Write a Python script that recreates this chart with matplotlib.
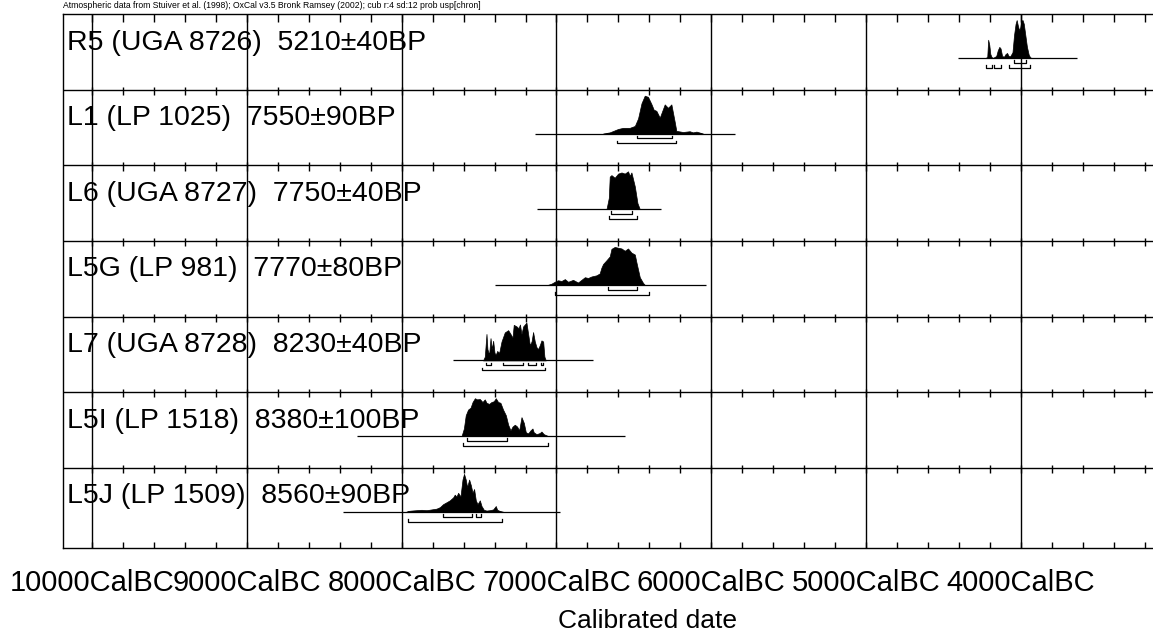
import matplotlib
matplotlib.use('Agg')
import matplotlib.pyplot as plt
import numpy as np

plt.rcParams['font.family'] = ['Liberation Sans', 'DejaVu Sans']

header = ("Atmospheric data from Stuiver et al. (1998); OxCal v3.5 Bronk Ramsey (2002); "
          "cub r:4 sd:12 prob usp[chron]")

labels = ["R5 (UGA 8726)  5210\u00b140BP",
          "L1 (LP 1025)  7550\u00b190BP",
          "L6 (UGA 8727)  7750\u00b140BP",
          "L5G (LP 981)  7770\u00b180BP",
          "L7 (UGA 8728)  8230\u00b140BP",
          "L5I (LP 1518)  8380\u00b1100BP",
          "L5J (LP 1509)  8560\u00b190BP"]

tick_years = [10000, 9000, 8000, 7000, 6000, 5000, 4000]

# calibrated probability, years BC vs relative height
r5_bc = [4230, 4218, 4212, 4205, 4198, 4190, 4180, 4160, 4150, 4140, 4132, 4122, 4110,
         4100, 4090, 4080, 4070, 4055, 4045, 4035, 4028, 4020, 4012, 4005, 3998, 3990,
         3982, 3972, 3962, 3950, 3940, 3930]
r5_p = [0, 0.02, 0.48, 0.35, 0.1, 0.02, 0.0, 0.05, 0.2, 0.29, 0.25, 0.05, 0.03,
        0.1, 0.13, 0.05, 0.04, 0.15, 0.6, 0.9, 1.0, 0.85, 0.73, 0.8, 0.98, 1.0,
        0.9, 0.6, 0.3, 0.08, 0.01, 0]

l1_bc = [6699, 6656, 6602, 6570, 6527, 6494, 6473, 6451, 6430, 6409, 6387, 6372, 6355,
         6333, 6301, 6280, 6258, 6236, 6226, 6183, 6140, 6118, 6096, 6054]
l1_p = [0, 0.03, 0.12, 0.15, 0.15, 0.2, 0.4, 0.8, 1.0, 0.97, 0.78, 0.63, 0.6,
        0.42, 0.77, 0.68, 0.77, 0.3, 0.07, 0.04, 0.06, 0.03, 0.05, 0]

l6_bc = [6677, 6662, 6656, 6645, 6624, 6602, 6580, 6559, 6538, 6527, 6516, 6494, 6477, 6462]
l6_p = [0, 0.3, 0.86, 0.9, 0.83, 0.94, 0.97, 0.94, 1.0, 0.88, 0.97, 0.6, 0.16, 0]

l5g_bc = [7054, 7032, 7011, 6990, 6968, 6946, 6925, 6893, 6861, 6839, 6817, 6796, 6774,
          6742, 6721, 6710, 6699, 6677, 6656, 6645, 6624, 6602, 6580, 6559, 6538, 6516,
          6494, 6484, 6473, 6462, 6441, 6430]
l5g_p = [0, 0.03, 0.08, 0.12, 0.1, 0.15, 0.08, 0.13, 0.06, 0.13, 0.2, 0.18, 0.22,
         0.25, 0.3, 0.45, 0.55, 0.65, 0.75, 0.95, 1.0, 0.98, 0.96, 0.9, 0.96, 0.85,
         0.8, 0.6, 0.4, 0.2, 0.05, 0]

l7_bc = [7474, 7463, 7452, 7446, 7435, 7426, 7418, 7409, 7400, 7392, 7383, 7370, 7355,
         7334, 7312, 7297, 7284, 7276, 7258, 7245, 7236, 7226, 7215, 7194, 7183, 7172,
         7161, 7151, 7140, 7129, 7119, 7108, 7097, 7086, 7078, 7069]
l7_p = [0, 0.1, 0.7, 0.3, 0.15, 0.59, 0.3, 0.52, 0.2, 0.15, 0.25, 0.2, 0.5,
        0.74, 0.8, 0.7, 0.6, 0.94, 0.9, 0.85, 0.95, 0.7, 0.9, 1.0, 0.7, 0.4,
        0.5, 0.75, 0.5, 0.35, 0.3, 0.4, 0.53, 0.5, 0.1, 0]

l5i_bc = [7613, 7598, 7586, 7571, 7555, 7542, 7527, 7513, 7495, 7478, 7463, 7452, 7435,
          7420, 7405, 7392, 7377, 7362, 7345, 7327, 7312, 7297, 7284, 7269, 7254, 7241,
          7226, 7211, 7198, 7183, 7168, 7155, 7147, 7129, 7108, 7097, 7082, 7065, 7054]
l5i_p = [0, 0.2, 0.55, 0.7, 0.75, 0.9, 1.0, 0.97, 0.98, 0.9, 0.97, 0.88, 0.85,
         0.9, 0.92, 1.0, 0.9, 0.88, 0.7, 0.55, 0.3, 0.15, 0.25, 0.3, 0.25, 0.15,
         0.5, 0.35, 0.1, 0.07, 0.15, 0.2, 0.1, 0.05, 0.08, 0.12, 0.05, 0.02, 0]

l5j_bc = [7970, 7958, 7936, 7904, 7872, 7839, 7807, 7775, 7753, 7732, 7710, 7689, 7667,
          7657, 7646, 7635, 7620, 7607, 7597, 7586, 7577, 7564, 7553, 7542, 7532, 7521,
          7510, 7495, 7484, 7469, 7452, 7431, 7409, 7392, 7383, 7366, 7345]
l5j_p = [0, 0.02, 0.03, 0.04, 0.05, 0.04, 0.06, 0.08, 0.12, 0.2, 0.25, 0.3, 0.38,
         0.45, 0.4, 0.5, 0.4, 0.85, 1.0, 0.85, 0.65, 0.85, 0.7, 0.5, 0.6, 0.3,
         0.2, 0.3, 0.15, 0.05, 0.03, 0.04, 0.06, 0.15, 0.05, 0.02, 0]

dens_bc = [r5_bc, l1_bc, l6_bc, l5g_bc, l7_bc, l5i_bc, l5j_bc]
dens_p = [r5_p, l1_p, l6_p, l5g_p, l7_p, l5i_p, l5j_p]

# extent of the calibration curve used for each date (years BC)
calc_range = [(4409, 3641), (7140, 5849), (7123, 6327), (7398, 6032),
              (7668, 6764), (8291, 6559), (8378, 6979)]

# 68.2% and 95.4% ranges (years BC)
sig1 = [[(4045, 3970)],
        [(6480, 6252)],
        [(6650, 6510)],
        [(6667, 6477)],
        [(7455, 7425), (7345, 7215), (7185, 7135), (7100, 7085)],
        [(7581, 7320)],
        [(7735, 7545), (7520, 7490)]]
sig2 = [[(4225, 4185), (4172, 4130), (4075, 3945)],
        [(6609, 6226)],
        [(6660, 6477)],
        [(7007, 6404)],
        [(7480, 7075)],
        [(7605, 7054)],
        [(7958, 7350)]]

nrow = len(labels)
ybot = 7.06
base_off = 0.58
peak_h = 0.5

fig = plt.figure(figsize=(11.53, 6.39), dpi=100)
ax = fig.add_axes([63 / 1153, 1 - 548 / 639, (1165 - 63) / 1153, 534 / 639])
ax.set_xlim(-10187, -3070)
ax.set_ylim(ybot, 0)

lw = 1.0
# row separators and major year lines
for k in range(1, nrow):
    ax.axhline(k, color='black', lw=lw)
for yr in tick_years:
    ax.axvline(-yr, color='black', lw=lw)

# small ticks every 200 years on each separator
minor = -np.arange(10000, 3000, -200)
ax.vlines(minor, 0, 0.11, color='black', lw=lw)
for k in range(1, nrow):
    ax.vlines(minor, k - 0.04, k + 0.07, color='black', lw=lw)
ax.vlines(minor, ybot - 0.08, ybot, color='black', lw=lw)

for i in range(nrow):
    base = i + base_off
    ax.text(-10160, i + 0.47, labels[i], fontsize=20.5, ha='left', va='baseline')
    a, b = calc_range[i]
    ax.hlines(base, -a, -b, color='black', lw=0.9)
    x = -np.array(dens_bc[i])
    p = np.array(dens_p[i])
    ax.fill_between(x, base, base - peak_h * p, color='black', lw=0.5)
    for ranges, dy in ((sig1[i], 0.065), (sig2[i], 0.13)):
        for a, b in ranges:
            yy = base + dy
            ax.plot([-a, -a, -b, -b], [yy - 0.035, yy, yy, yy - 0.035],
                    color='black', lw=0.9)

ax.set_xticks([-y for y in tick_years])
ax.set_xticklabels(['%dCalBC' % y for y in tick_years], fontsize=21)
ax.tick_params(axis='x', length=0, pad=15)
ax.set_yticks([])
for s in ax.spines.values():
    s.set_linewidth(lw)

fig.text(63 / 1153, 1 - 8 / 639, header, fontsize=6.2, ha='left', va='baseline')
fig.text(648 / 1153, 1 - 628 / 639, 'Calibrated date', fontsize=19, ha='center',
         va='baseline')

fig.savefig('out.png', dpi=100)
